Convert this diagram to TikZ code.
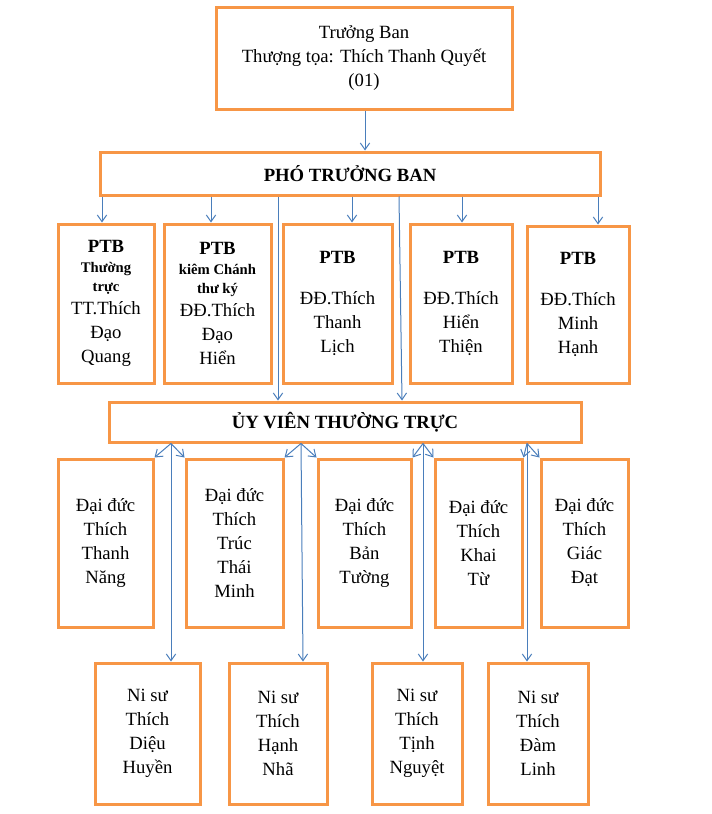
\documentclass[tikz,border=0pt]{standalone}
\usepackage{fontspec}
\setmainfont{Liberation Serif}
\usetikzlibrary{arrows.meta}

\definecolor{boxorange}{RGB}{247,150,70}
\definecolor{linkblue}{RGB}{74,126,187}

\newcommand{\ptbfont}{\fontsize{14}{18}\selectfont\bfseries}
\newcommand{\subfont}{\fontsize{11}{14}\selectfont\bfseries}

\tikzset{
  box/.style={draw=boxorange, line width=2.25pt, fill=white, align=center,
    inner sep=0pt, font=\fontsize{14}{18}\selectfont},
  arr/.style={draw=linkblue, line width=0.75pt, -{Straight Barb[length=5pt,width=7pt]}}
}

\begin{document}
\begin{tikzpicture}[x=0.75pt, y=-0.75pt]
  \useasboundingbox (0,0) rectangle (711,814);

  % truong ban
  \node[box, minimum width=222pt, minimum height=76.5pt] (truongban) at (364,58)
    {Trưởng Ban\\ Thượng tọa: Thích Thanh Quyết\\ (01)};
  \node[box, minimum width=375pt, minimum height=32.25pt, font=\ptbfont] (pho) at (350,173.5)
    {PHÓ TRƯỞNG BAN};
  \draw[arr] (truongban.south -| 365,0) -- (pho.north -| 365,0);

  % pho truong ban
  \node[box, minimum width=72pt, minimum height=119.25pt] (ptb1) at (106,303.5)
    {{\ptbfont PTB}\\[-3pt] {\subfont Thường}\\[-4pt] {\subfont trực}\\[-1pt] TT.Thích\\ Đạo\\ Quang};
  \node[box, minimum width=80.25pt, minimum height=119.25pt] (ptb2) at (217.5,303.5)
    {{\ptbfont PTB}\\[-3pt] {\subfont kiêm Chánh}\\[-4pt] {\subfont thư ký}\\[-1pt] ĐĐ.Thích\\ Đạo\\ Hiển};
  \node[box, minimum width=81.75pt, minimum height=119.25pt] (ptb3) at (337.5,303.5)
    {{\ptbfont PTB}\\[13pt] ĐĐ.Thích\\ Thanh\\ Lịch};
  \node[box, minimum width=76.5pt, minimum height=119.25pt] (ptb4) at (461,303.5)
    {{\ptbfont PTB}\\[13pt] ĐĐ.Thích\\ Hiển\\ Thiện};
  \node[box, minimum width=76.5pt, minimum height=117.75pt] (ptb5) at (578,304.5)
    {{\ptbfont PTB}\\[13pt] ĐĐ.Thích\\ Minh\\ Hạnh};

  \draw[arr] (pho.south -| 102,0) -- (ptb1.north -| 102,0);
  \draw[arr] (pho.south -| 211,0) -- (ptb2.north -| 211,0);
  \draw[arr] (pho.south -| 352,0) -- (ptb3.north -| 352,0);
  \draw[arr] (pho.south -| 462,0) -- (ptb4.north -| 462,0);
  \draw[arr] (pho.south -| 598,0) -- (ptb5.north -| 598,0);

  % uy vien thuong truc
  \node[box, minimum width=354pt, minimum height=30pt, font=\ptbfont] (uv) at (345,422)
    {ỦY VIÊN THƯỜNG TRỰC};
  \draw[arr] (pho.south -| 278,0) -- (uv.north -| 278,0);
  \draw[arr] (pho.south -| 399,0) -- (uv.north -| 402,0);

  % dai duc
  \node[box, minimum width=71.25pt, minimum height=126pt] (mid1) at (105.5,543)
    {Đại đức\\ Thích\\ Thanh\\ Năng};
  \node[box, minimum width=72.75pt, minimum height=126pt] (mid2) at (234.5,543)
    {Đại đức\\ Thích\\ Trúc\\ Thái\\ Minh};
  \node[box, minimum width=69.75pt, minimum height=126pt] (mid3) at (364.5,543)
    {Đại đức\\ Thích\\ Bản\\ Tường};
  \node[box, minimum width=65.25pt, minimum height=126pt] (mid4) at (478.5,543)
    {Đại đức\\ Thích\\ Khai\\ Từ};
  \node[box, minimum width=65.25pt, minimum height=126pt] (mid5) at (584.5,543)
    {Đại đức\\ Thích\\ Giác\\ Đạt};

  % ni su
  \node[box, minimum width=78.75pt, minimum height=105.75pt] (ni1) at (147.5,733.5)
    {Ni sư\\ Thích\\ Diệu\\ Huyền};
  \node[box, minimum width=73.5pt, minimum height=105.75pt] (ni2) at (278,733.5)
    {Ni sư\\ Thích\\ Hạnh\\ Nhã};
  \node[box, minimum width=67.5pt, minimum height=105.75pt] (ni3) at (417,733.5)
    {Ni sư\\ Thích\\ Tịnh\\ Nguyệt};
  \node[box, minimum width=75pt, minimum height=105.75pt] (ni4) at (538,733.5)
    {Ni sư\\ Thích\\ Đàm\\ Linh};

  \draw[arr] (uv.south -| 171,0) -- (mid1.north east);
  \draw[arr] (uv.south -| 171,0) -- (mid2.north west);
  \draw[arr] (uv.south -| 171,0) -- (ni1.north -| 171,0);
  \draw[arr] (uv.south -| 301,0) -- (mid2.north east);
  \draw[arr] (uv.south -| 301,0) -- (mid3.north west);
  \draw[arr] (uv.south -| 301,0) -- (ni2.north -| 303,0);
  \draw[arr] (uv.south -| 423,0) -- (mid3.north east);
  \draw[arr] (uv.south -| 423,0) -- (mid4.north west);
  \draw[arr] (uv.south -| 423,0) -- (ni3.north -| 423,0);
  \draw[arr] (uv.south -| 527,0) -- (mid4.north east);
  \draw[arr] (uv.south -| 527,0) -- (mid5.north west);
  \draw[arr] (uv.south -| 527,0) -- (ni4.north -| 527,0);
\end{tikzpicture}
\end{document}
